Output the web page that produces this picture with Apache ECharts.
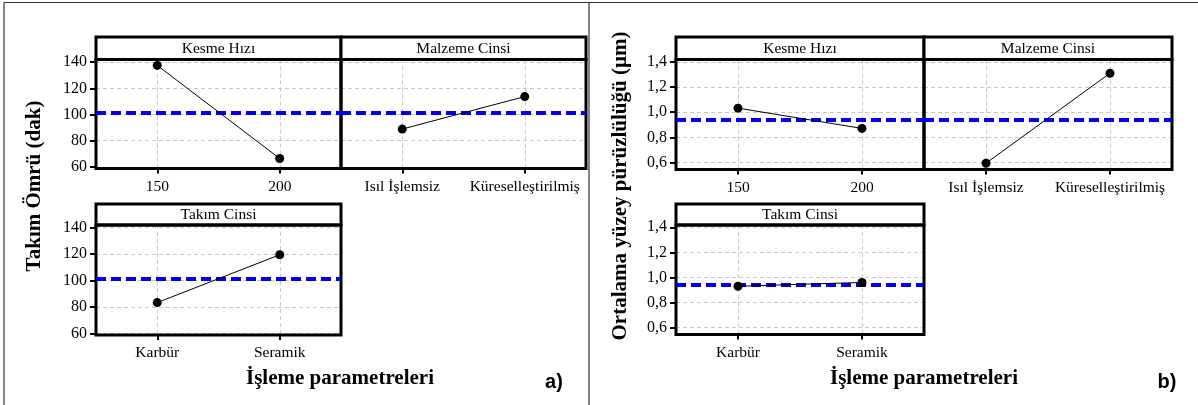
<!DOCTYPE html>
<html>
<head>
<meta charset="utf-8">
<title>Ana etki grafikleri</title>
<script src="https://cdn.jsdelivr.net/npm/echarts@6/dist/echarts.min.js"></script>
<style>
  html, body { margin: 0; padding: 0; background: #fff; }
  #chart { width: 1198px; height: 405px; }
</style>
</head>
<body>
<div id="chart"></div>
<script>
/* -------------------------------------------------------------------------- */
/*                     Data                  */
/* -------------------------------------------------------------------------- */

const kesmeHiziCats = ['150', '200'];
const malzemeCats = ['Isıl İşlemsiz', 'Küreselleştirilmiş'];
const takimCats = ['Karbür', 'Seramik'];

// a) Takım Ömrü (dak)
const omurKesme = [137.5, 66.4];
const omurMalzeme = [88.9, 113.7];
const omurTakim = [83.3, 119.5];
const omurMean = 101.3;
const omurTicks = [60, 80, 100, 120, 140];

// b) Ortalama yüzey pürüzlülüğü (µm)
const puruzKesme = [1.032, 0.871];
const puruzMalzeme = [0.595, 1.309];
const puruzTakim = [0.93, 0.96];
const puruzMean = 0.944;
const puruzTicks = [0.6, 0.8, 1.0, 1.2, 1.4];

/* -------------------------------------------------------------------------- */

const SERIF = '"Liberation Serif", "Times New Roman", serif';

const fmtOmur = v => String(Math.round(v));
const fmtPuruz = v => v.toFixed(1).replace('.', ',');

// one entry per small plot
const panels = [
  { left: 96, top: 59.5, width: 245, height: 109, strip: 'Kesme Hızı', cats: kesmeHiziCats, values: omurKesme, mean: omurMean, ticks: omurTicks, min: 58.8, max: 142, fmt: fmtOmur, showY: true },
  { left: 341, top: 59.5, width: 245, height: 109, strip: 'Malzeme Cinsi', cats: malzemeCats, values: omurMalzeme, mean: omurMean, ticks: omurTicks, min: 58.8, max: 142, fmt: fmtOmur, showY: false },
  { left: 96, top: 225, width: 245, height: 110, strip: 'Takım Cinsi', cats: takimCats, values: omurTakim, mean: omurMean, ticks: omurTicks, min: 58.8, max: 142, fmt: fmtOmur, showY: true },
  { left: 676, top: 59.5, width: 248, height: 110, strip: 'Kesme Hızı', cats: kesmeHiziCats, values: puruzKesme, mean: puruzMean, ticks: puruzTicks, min: 0.545, max: 1.418, fmt: fmtPuruz, showY: true },
  { left: 924, top: 59.5, width: 248, height: 110, strip: 'Malzeme Cinsi', cats: malzemeCats, values: puruzMalzeme, mean: puruzMean, ticks: puruzTicks, min: 0.545, max: 1.418, fmt: fmtPuruz, showY: false },
  { left: 676, top: 225, width: 248, height: 109.5, strip: 'Takım Cinsi', cats: takimCats, values: puruzTakim, mean: puruzMean, ticks: puruzTicks, min: 0.545, max: 1.418, fmt: fmtPuruz, showY: true }
];

const grids = [];
const xAxes = [];
const yAxes = [];
const series = [];
const graphics = [];

panels.forEach((p, i) => {
  grids.push({ left: p.left, top: p.top, width: p.width, height: p.height, containLabel: false });

  xAxes.push({
    type: 'category',
    gridIndex: i,
    data: p.cats,
    boundaryGap: true,
    axisLine: { show: false },
    axisTick: { show: true, alignWithLabel: true, length: 5, lineStyle: { color: '#000', width: 2 } },
    axisLabel: { interval: 0, hideOverlap: false, margin: 10, fontFamily: SERIF, fontSize: 15.5, color: '#000' },
    splitLine: { show: true, alignWithLabel: true, lineStyle: { color: '#c8c8c8', width: 1, type: [4, 3] } }
  });

  yAxes.push({
    type: 'value',
    gridIndex: i,
    min: p.min,
    max: p.max,
    axisLine: { show: false },
    axisTick: { show: p.showY, customValues: p.ticks, length: 6, lineStyle: { color: '#000', width: 2 } },
    axisLabel: { show: p.showY, customValues: p.ticks, margin: 9, fontFamily: SERIF, fontSize: 16, color: '#000', formatter: p.fmt },
    splitLine: { show: true, lineStyle: { color: '#c8c8c8', width: 1, type: [4, 3] } }
  });

  series.push({
    type: 'line',
    xAxisIndex: i,
    yAxisIndex: i,
    data: p.values,
    z: 10,
    symbol: 'circle',
    symbolSize: 9,
    itemStyle: { color: '#000' },
    lineStyle: { color: '#000', width: 1 },
    silent: true,
    markLine: {
      silent: true,
      symbol: 'none',
      label: { show: false },
      lineStyle: { color: '#0000f0', width: 4, type: [10, 5] },
      data: [{ yAxis: p.mean }]
    }
  });

  // strip header and plot frame
  const stripTop = p.top < 100 ? 37 : 204;
  graphics.push({
    type: 'rect', z: 3,
    shape: { x: p.left, y: stripTop, width: p.width, height: p.top - stripTop },
    style: { fill: '#fff', stroke: '#000', lineWidth: 3 }
  });
  graphics.push({
    type: 'text', z: 4,
    x: p.left + p.width / 2, y: (stripTop + p.top) / 2 + 0.5,
    style: { text: p.strip, fill: '#000', font: '15.5px ' + SERIF, align: 'center', verticalAlign: 'middle' }
  });
  graphics.push({
    type: 'rect', z: 3,
    shape: { x: p.left, y: p.top, width: p.width, height: p.height },
    style: { fill: 'none', stroke: '#000', lineWidth: 3 }
  });
});

// axis titles and panel letters
const titleFont = 'bold 21px ' + SERIF;
graphics.push(
  { type: 'text', x: 35, y: 186, rotation: Math.PI / 2, style: { text: 'Takım Ömrü (dak)', font: titleFont, fill: '#000', align: 'center', verticalAlign: 'middle' } },
  { type: 'text', x: 621, y: 186, rotation: Math.PI / 2, style: { text: 'Ortalama yüzey pürüzlülüğü (µm)', font: titleFont, fill: '#000', align: 'center', verticalAlign: 'middle' } },
  { type: 'text', x: 340, y: 379, style: { text: 'İşleme parametreleri', font: titleFont, fill: '#000', align: 'center', verticalAlign: 'middle' } },
  { type: 'text', x: 924, y: 379, style: { text: 'İşleme parametreleri', font: titleFont, fill: '#000', align: 'center', verticalAlign: 'middle' } },
  { type: 'text', x: 554, y: 382, style: { text: 'a)', font: 'bold 20px "Liberation Sans", Arial, sans-serif', fill: '#000', align: 'center', verticalAlign: 'middle' } },
  { type: 'text', x: 1167, y: 382, style: { text: 'b)', font: 'bold 20px "Liberation Sans", Arial, sans-serif', fill: '#000', align: 'center', verticalAlign: 'middle' } },
  // outer figure frame
  { type: 'line', shape: { x1: 4, y1: 2.5, x2: 1198, y2: 2.5 }, style: { stroke: '#333', lineWidth: 1.2 } },
  { type: 'line', shape: { x1: 4, y1: 2.5, x2: 4, y2: 405 }, style: { stroke: '#333', lineWidth: 1.2 } },
  { type: 'line', shape: { x1: 589, y1: 2.5, x2: 589, y2: 405 }, style: { stroke: '#333', lineWidth: 1.2 } }
);

const chart = echarts.init(document.getElementById('chart'), null, { renderer: 'canvas' });
chart.setOption({
  backgroundColor: '#fff',
  animation: false,
  grid: grids,
  xAxis: xAxes,
  yAxis: yAxes,
  series: series,
  graphic: graphics
});
</script>
</body>
</html>
